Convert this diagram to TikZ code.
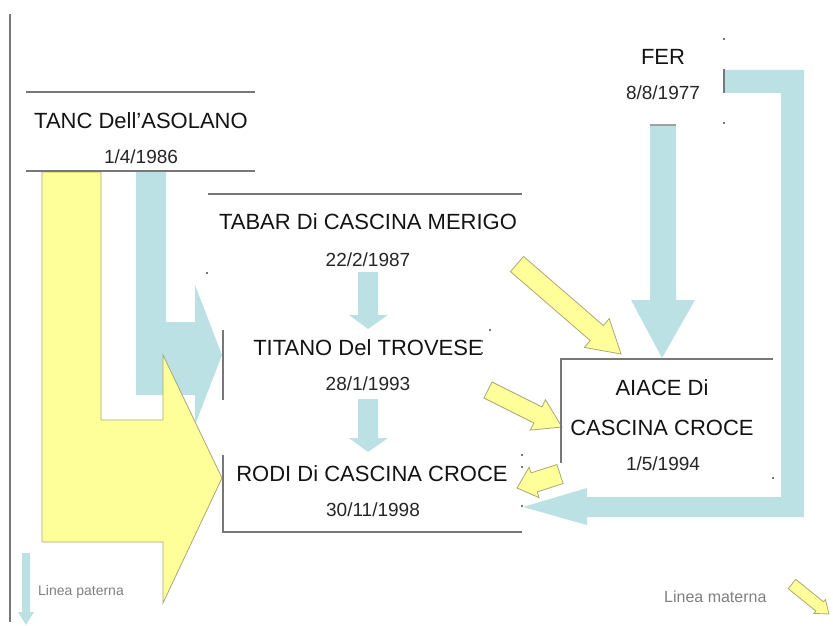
\documentclass[tikz,border=0pt]{standalone}
\usepackage{fontspec}
\setmainfont{Liberation Sans}
\usetikzlibrary{calc}
\definecolor{lblue}{HTML}{BCE1E4}
\definecolor{lyel}{HTML}{FFFF99}
\definecolor{yedge}{HTML}{A8A878}
\definecolor{lgray}{HTML}{777777}
% style, tail, tip, shaft half width, head half width, head length
\newcommand\fatarr[6]{%
  \coordinate (fa-t) at (#2);
  \coordinate (fa-h) at (#3);
  \coordinate (fa-b) at ($(fa-h)!#6!(fa-t)$);
  \path[#1] ($(fa-t)!#4!90:(fa-h)$) -- ($(fa-b)!#4!90:(fa-h)$) -- ($(fa-b)!#5!90:(fa-h)$)
    -- (fa-h) -- ($(fa-b)!#5!-90:(fa-h)$) -- ($(fa-b)!#4!-90:(fa-h)$) -- ($(fa-t)!#4!-90:(fa-h)$) -- cycle;
}
\begin{document}
\begin{tikzpicture}[x=1pt,y=-1pt,
  nametext/.style={font=\fontsize{22}{26}\selectfont, text=black!92, inner sep=0},
  datetext/.style={font=\fontsize{19}{22}\selectfont, text=black!85, inner sep=0},
  boxrule/.style={draw=lgray, line width=2pt},
  bluearr/.style={fill=lblue, draw=none},
  yelarr/.style={fill=lyel, draw=yedge, line width=0.8pt, line join=miter},
  legendtext/.style={font=\fontsize{14}{16}\selectfont, text=gray, inner sep=0},
  smalldot/.style={fill=lgray, minimum size=2.5pt, inner sep=0}]
\useasboundingbox (0,0) rectangle (833,626);
\fill[white] (0,0) rectangle (833,626);

% left margin line
\draw[boxrule] (10,14) coordinate (m1) -- (10,622) coordinate (m2);

% blue arrow TANC -> TITANO
\path[bluearr] (136,172) -- (166,172) -- (166,322) -- (195,322) -- (195,285) -- (222,355)
  -- (195,425) -- (195,395) -- (136,395) -- cycle;
% yellow arrow TANC -> RODI
\path[yelarr] (42,172) -- (101,172) -- (101,420) -- (163,420) -- (163,355) -- (222,478)
  -- (163,603) -- (163,542) -- (42,542) -- cycle;

% blue arrow FER -> AIACE
\path[bluearr] (650,125) -- (676,125) -- (676,300) -- (695,300) -- (662,358) -- (631,300) -- (650,300) -- cycle;
\draw[lgray!70, line width=1.2pt] (650,125) -- (676,125);
% blue L arrow FER -> RODI
\path[bluearr] (724,70) -- (804,70) -- (804,517) -- (587,517) -- (587,525) -- (523,507)
  -- (587,488) -- (587,497) -- (781,497) -- (781,93) -- (724,93) -- cycle;

% small blue arrows
\path[bluearr] (358,272) -- (378,272) -- (378,315) -- (388,315) -- (368,329) -- (349,315) -- (358,315) -- cycle;
\path[bluearr] (358,399) -- (378,399) -- (378,438) -- (388,438) -- (368,452) -- (349,438) -- (358,438) -- cycle;

% yellow arrows
\fatarr{yelarr}{517,264}{621,354}{10pt}{19pt}{32pt}
\fatarr{yelarr}{488,390}{562,427}{9pt}{17pt}{27pt}
\fatarr{yelarr}{560,474}{517,488}{10pt}{16pt}{18pt}

% TANC box
\draw[boxrule] (26,92) -- (255,92);
\draw[boxrule] (26,171) -- (255,171);
\node[nametext] (tanc) at (141,121) {TANC Dell'ASOLANO};
\node[datetext] (tancd) at (141,157) {1/4/1986};

% TABAR
\draw[boxrule] (208,194) -- (522,194);
\node[nametext] (tabar) at (368,222) {TABAR Di CASCINA MERIGO};
\node[datetext] (tabard) at (368,260) {22/2/1987};
\node[smalldot] (d1) at (207,273) {};

% TITANO
\draw[boxrule] (223,330) -- (223,400);
\node[nametext] (titano) at (368,348) {TITANO Del TROVESE};
\node[datetext] (titanod) at (368,384) {28/1/1993};
\node[smalldot] (d2) at (490,330) {};
\node[smalldot] (d3) at (482,341) {};
\node[smalldot] (d4) at (482,353) {};

% RODI
\draw[boxrule] (223,455) -- (223,532) -- (522,532);
\node[nametext] (rodi) at (372,474) {RODI Di CASCINA CROCE};
\node[datetext] (rodid) at (373,510) {30/11/1998};
\node[smalldot] (d5) at (522,455) {};
\node[smalldot] (d6) at (522,467) {};
\node[smalldot] (d7) at (522,506) {};

% AIACE
\draw[boxrule] (561,463) -- (561,359) -- (773,359);
\node[nametext] (aiace1) at (662,388) {AIACE Di};
\node[nametext] (aiace2) at (662,428) {CASCINA CROCE};
\node[datetext] (aiaced) at (663,464) {1/5/1994};
\node[smalldot] (d8) at (773,478) {};

% FER
\draw[boxrule] (724,69) -- (724,93);
\node[nametext] (fer) at (663,57) {FER};
\node[datetext] (ferd) at (663,93) {8/8/1977};
\node[smalldot] (d9) at (724,39) {};
\node[smalldot] (d10) at (724,123) {};

% legend
\path[bluearr] (22,553) -- (30,553) -- (30,612) -- (34,612) -- (26,625) -- (18,612) -- (22,612) -- cycle;
\node[legendtext, anchor=west] (leg1) at (38,592) {Linea paterna};
\node[legendtext, anchor=west, font=\fontsize{16}{18}\selectfont] (leg2) at (664,597) {Linea materna};
\fatarr{yelarr}{792,584}{829,614}{6pt}{9pt}{12pt}
\end{tikzpicture}
\end{document}
